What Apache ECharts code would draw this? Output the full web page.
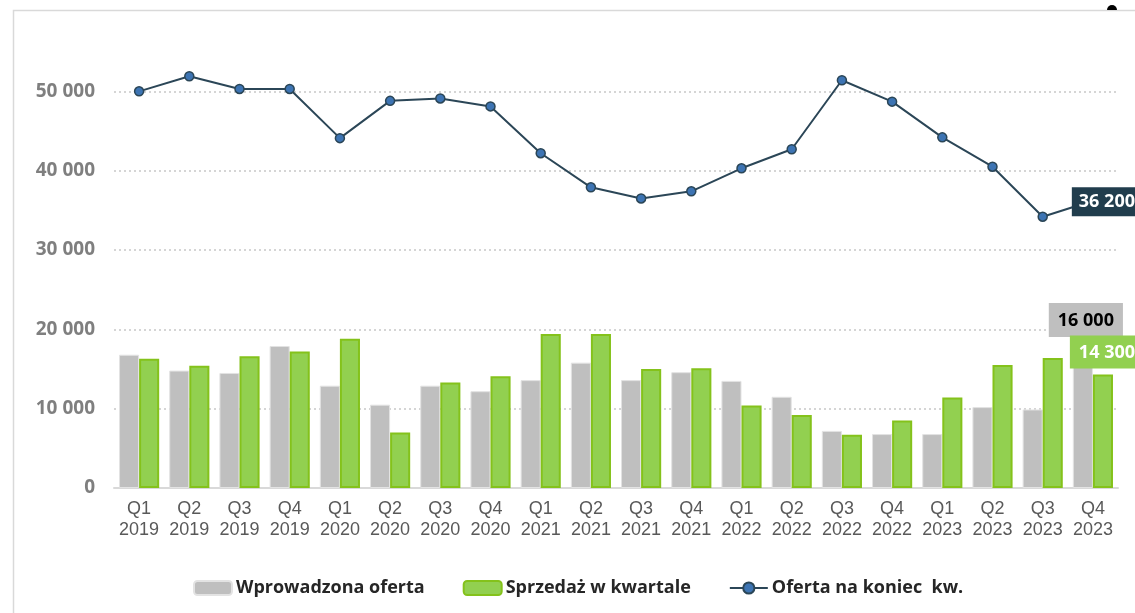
<!DOCTYPE html>
<html>
<head>
<meta charset="utf-8">
<script src="https://cdn.jsdelivr.net/npm/echarts@6/dist/echarts.min.js"></script>
<style>
  html, body { margin: 0; padding: 0; background: #fff; }
  #chart { width: 1135px; height: 613px; }
</style>
</head>
<body>
<div id="chart"></div>
<script>
// kwartaly
var categories = [
  'Q1\n2019', 'Q2\n2019', 'Q3\n2019', 'Q4\n2019',
  'Q1\n2020', 'Q2\n2020', 'Q3\n2020', 'Q4\n2020',
  'Q1\n2021', 'Q2\n2021', 'Q3\n2021', 'Q4\n2021',
  'Q1\n2022', 'Q2\n2022', 'Q3\n2022', 'Q4\n2022',
  'Q1\n2023', 'Q2\n2023', 'Q3\n2023', 'Q4\n2023'
]
var wprowadzona = [16800, 14800, 14500, 17900, 12900, 10500, 12900, 12200, 13600, 15800,
  13600, 14600, 13500, 11500, 7200, 6800, 6800, 10200, 9900, 16000]
var sprzedaz = [16300, 15400, 16600, 17200, 18800, 7000, 13300, 14100, 19400, 19400,
  15000, 15100, 10400, 9200, 6700, 8500, 11400, 15500, 16400, 14300]
var oferta = [50000, 51900, 50300, 50300, 44100, 48800, 49100, 48100, 42200, 37900,
  36500, 37400, 40300, 42700, 51400, 48700, 44200, 40500, 34200, 36200]
var yTicks = [0, 10000, 20000, 30000, 40000, 50000]

var fmt = function (v) {
  return String(v).replace(/\B(?=(\d{3})+(?!\d))/g, ' ')
}
var font = 'Open Sans'
var last = categories.length - 1

// tylko ostatni punkt ma etykiete
function withLastLabel(arr, label) {
  return arr.map(function (v, i) {
    if (i != last) return v
    return { value: v, label: label }
  })
}

var myChart = echarts.init(document.getElementById('chart'))
myChart.setOption({
  animation: false,
  textStyle: { fontFamily: font },
  graphic: [
    {
      type: 'rect',
      shape: { x: 13.5, y: 10.5, width: 1200, height: 700 },
      style: { fill: 'none', stroke: '#d9d9d9', lineWidth: 1.5 },
      silent: true
    },
    {
      type: 'sector',
      shape: { cx: 1112, cy: 10, r: 5, startAngle: Math.PI, endAngle: Math.PI * 2 },
      style: { fill: '#000' },
      silent: true
    }
  ],
  grid: { left: 114, right: 17, top: 12, bottom: 125 },
  legend: {
    left: 188,
    top: 574,
    itemWidth: 38,
    itemHeight: 14,
    itemGap: 38,
    textStyle: { fontFamily: font, fontSize: 18, fontWeight: 'bold', color: '#262626', padding: [0, 0, 0, -1] },
    data: ['Wprowadzona oferta', 'Sprzedaż w kwartale', 'Oferta na koniec  kw.']
  },
  xAxis: {
    type: 'category',
    data: categories,
    axisTick: { show: false },
    axisLine: { lineStyle: { color: '#d9d9d9', width: 2 } },
    axisLabel: { fontFamily: 'Liberation Sans', color: '#595959', fontSize: 18, lineHeight: 21, margin: 11, interval: 0 }
  },
  yAxis: {
    type: 'value',
    min: 0,
    max: 60000,
    interval: 10000,
    axisLine: { show: false },
    axisTick: { show: false },
    axisLabel: {
      color: '#7f7f7f',
      fontSize: 19,
      fontWeight: 'bold',
      margin: 19,
      formatter: function (v) {
        return yTicks.indexOf(v) >= 0 ? fmt(v) : ''
      }
    },
    splitLine: {
      showMaxLine: false,
      lineStyle: { color: '#c8c8c8', type: [2, 3], width: 1.5 }
    }
  },
  series: [
    {
      name: 'Wprowadzona oferta',
      type: 'bar',
      barGap: '0%',
      barCategoryGap: '20%',
      itemStyle: { color: '#bfbfbf', borderColor: '#e3e3e3', borderWidth: 1 },
      data: withLastLabel(wprowadzona, {
        show: true,
        position: 'top',
        offset: [3, -19],
        formatter: function (p) { return fmt(p.value) },
        backgroundColor: '#bfbfbf',
        color: '#000',
        fontSize: 18,
        fontWeight: 'bold',
        padding: [9, 9, 7, 9]
      })
    },
    {
      name: 'Sprzedaż w kwartale',
      type: 'bar',
      itemStyle: { color: '#92d050', borderColor: '#84c21b', borderWidth: 2 },
      data: withLastLabel(sprzedaz, {
        show: true,
        position: 'top',
        offset: [4, -1],
        formatter: function (p) { return fmt(p.value) },
        backgroundColor: '#92d050',
        color: '#fff',
        fontSize: 18,
        fontWeight: 'bold',
        padding: [8, 9, 7, 9]
      })
    },
    {
      name: 'Oferta na koniec  kw.',
      type: 'line',
      z: 5,
      symbol: 'circle',
      symbolSize: 9,
      lineStyle: { color: '#2b4657', width: 2 },
      itemStyle: { color: '#3d74b3', borderColor: '#2b4657', borderWidth: 1.5 },
      data: withLastLabel(oferta, {
        show: true,
        position: 'inside',
        offset: [14, 1],
        formatter: function (p) { return fmt(p.value) },
        backgroundColor: '#213d4d',
        color: '#fff',
        fontSize: 18,
        fontWeight: 'bold',
        padding: [6, 7, 5, 7]
      })
    }
  ]
})
</script>
</body>
</html>
